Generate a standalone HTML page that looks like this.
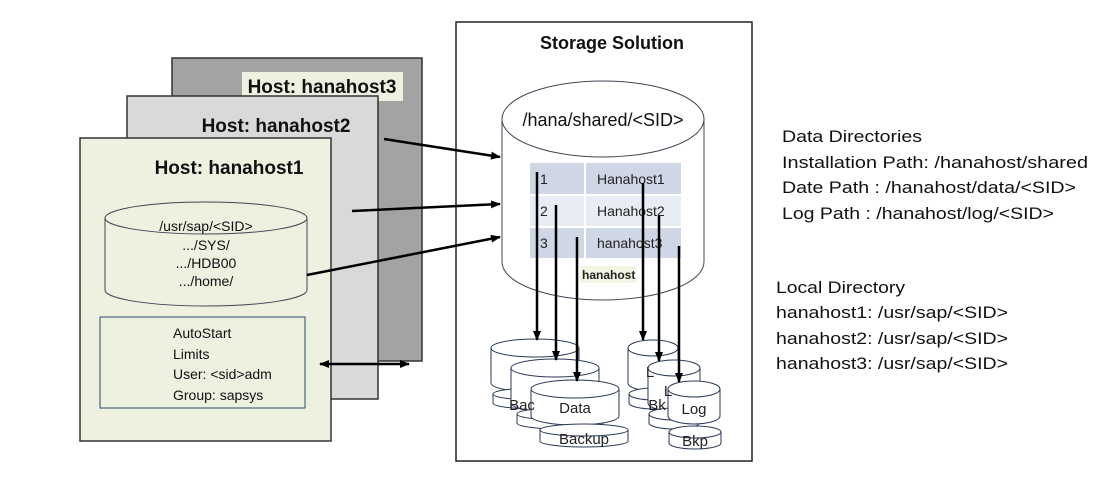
<!DOCTYPE html>
<html><head><meta charset="utf-8"><style>
html,body{margin:0;padding:0;background:#fff;}
svg{display:block;font-family:"Liberation Sans",sans-serif;}
</style></head><body>
<svg width="1100" height="480" viewBox="0 0 1100 480" xmlns="http://www.w3.org/2000/svg">
<defs>
<marker id="ah" markerWidth="10" markerHeight="8" refX="9" refY="4" orient="auto" markerUnits="userSpaceOnUse"><path d="M0,0 L10,4 L0,8 z" fill="#000"/></marker>
<marker id="ah2" markerWidth="10" markerHeight="8" refX="1" refY="4" orient="auto" markerUnits="userSpaceOnUse"><path d="M10,0 L0,4 L10,8 z" fill="#000"/></marker>
</defs>
<rect x="172" y="58" width="250" height="303" fill="#a3a3a3" stroke="#333" stroke-width="1.5"/>
<rect x="242" y="72" width="161" height="29" fill="#eef0e0"/>
<text x="322" y="93" text-anchor="middle" font-weight="bold" font-size="19" fill="#111">Host: hanahost3</text>
<rect x="127" y="96" width="251" height="303" fill="#d9d9d9" stroke="#333" stroke-width="1.5"/>
<text x="276" y="132" text-anchor="middle" font-weight="bold" font-size="19" fill="#111">Host: hanahost2</text>
<rect x="80" y="138" width="251" height="303" fill="#eef0e0" stroke="#333" stroke-width="1.5"/>
<text x="229" y="174" text-anchor="middle" font-weight="bold" font-size="19" fill="#111">Host: hanahost1</text>
<path d="M105 218 L105 290 A101 16 0 0 0 307 290 L307 218" fill="#eef0e0" stroke="#445" stroke-width="1"/>
<ellipse cx="206" cy="218" rx="101" ry="16" fill="#eef0e0" stroke="#445" stroke-width="1"/>
<g font-size="14" fill="#111" text-anchor="middle">
<text x="206" y="231">/usr/sap/&lt;SID&gt;</text>
<text x="206" y="250">.../SYS/</text>
<text x="206" y="268">.../HDB00</text>
<text x="206" y="286">.../home/</text>
</g>
<rect x="100" y="317" width="205" height="91" fill="#eef0e0" stroke="#2a4a6a" stroke-width="1"/>
<g font-size="14" fill="#111">
<text x="173" y="338">AutoStart</text>
<text x="173" y="359">Limits</text>
<text x="173" y="379">User: &lt;sid&gt;adm</text>
<text x="173" y="400">Group: sapsys</text>
</g>
<line x1="320" y1="364" x2="409" y2="364" stroke="#000" stroke-width="2.5" marker-start="url(#ah2)" marker-end="url(#ah)"/>
<rect x="456" y="22" width="296" height="439" fill="#fff" stroke="#222" stroke-width="1.5"/>
<text x="612" y="49" text-anchor="middle" font-weight="bold" font-size="18" fill="#111">Storage Solution</text>
<path d="M502 119 L502 262 A101 38 0 0 0 704 262 L704 119" fill="#fff" stroke="#445" stroke-width="1"/>
<ellipse cx="603" cy="119" rx="101" ry="38" fill="#fff" stroke="#445" stroke-width="1"/>
<text x="603" y="126" text-anchor="middle" font-size="18" fill="#111">/hana/shared/&lt;SID&gt;</text>
<rect x="530" y="163" width="54" height="31" fill="#cfd6e6"/>
<rect x="586" y="163" width="95" height="31" fill="#cfd6e6"/>
<rect x="530" y="196" width="54" height="30" fill="#e8ecf4"/>
<rect x="586" y="196" width="95" height="30" fill="#e8ecf4"/>
<rect x="530" y="228" width="54" height="30" fill="#cfd6e6"/>
<rect x="586" y="228" width="95" height="30" fill="#cfd6e6"/>
<g font-size="14" fill="#222">
<text x="540" y="184">1</text><text x="597" y="184">Hanahost1</text>
<text x="540" y="216">2</text><text x="597" y="216">Hanahost2</text>
<text x="540" y="248">3</text><text x="597" y="248">hanahost3</text>
</g>
<rect x="580" y="266" width="56" height="17" fill="#f4f6e4"/>
<text x="582" y="279" font-size="12" font-weight="bold" fill="#222">hanahost</text>
<g stroke="#2a3a5a" stroke-width="1" fill="#fff">
<path d="M491 348 L491 383 A44 9 0 0 0 579 383 L579 348"/><ellipse cx="535" cy="348" rx="44" ry="9"/>
<path d="M493 394 L493 403 A43 6 0 0 0 579 403 L579 394"/><ellipse cx="536" cy="394" rx="43" ry="6"/>
<path d="M511 368 L511 403 A44 9 0 0 0 599 403 L599 368"/><ellipse cx="555" cy="368" rx="44" ry="9"/>
<path d="M517 414 L517 423 A43 6 0 0 0 603 423 L603 414"/><ellipse cx="560" cy="414" rx="43" ry="6"/>
<path d="M531 389 L531 416 A44 9 0 0 0 619 416 L619 389"/><ellipse cx="575" cy="389" rx="44" ry="9"/>
<path d="M540 430 L540 441 A44 6 0 0 0 628 441 L628 430"/><ellipse cx="584" cy="430" rx="44" ry="6"/>
<path d="M628 348 L628 383 A25 8 0 0 0 678 383 L678 348"/><ellipse cx="653" cy="348" rx="25" ry="8"/>
<path d="M629 394 L629 403 A25 6 0 0 0 679 403 L679 394"/><ellipse cx="654" cy="394" rx="25" ry="6"/>
<path d="M648 368 L648 403 A26 8 0 0 0 700 403 L700 368"/><ellipse cx="674" cy="368" rx="26" ry="8"/>
<path d="M649 414 L649 423 A25 6 0 0 0 699 423 L699 414"/><ellipse cx="674" cy="414" rx="25" ry="6"/>
<path d="M668 389 L668 416 A26 8 0 0 0 720 416 L720 389"/><ellipse cx="694" cy="389" rx="26" ry="8"/>
<path d="M669 432 L669 443 A26 6 0 0 0 721 443 L721 432"/><ellipse cx="695" cy="432" rx="26" ry="6"/>
</g>
<g font-size="15" fill="#222" text-anchor="middle">
<text x="522" y="410">Bac</text>
<text x="575" y="413">Data</text>
<text x="584" y="444">Backup</text>
<text x="650" y="377">L</text>
<text x="657" y="410">Bk</text>
<text x="668" y="396">L</text>
<text x="694" y="414">Log</text>
<text x="695" y="446">Bkp</text>
</g>
<g stroke="#000" stroke-width="2.5" marker-end="url(#ah)">
<line x1="537" y1="172" x2="537" y2="340"/>
<line x1="556" y1="205" x2="556" y2="360"/>
<line x1="577" y1="237" x2="577" y2="381"/>
<line x1="643" y1="183" x2="643" y2="340"/>
<line x1="659" y1="216" x2="659" y2="361"/>
<line x1="679" y1="246" x2="679" y2="382"/>
</g>
<g stroke="#000" stroke-width="2.5" marker-end="url(#ah)">
<line x1="384" y1="139" x2="500" y2="157"/>
<line x1="352" y1="211" x2="500" y2="204"/>
<line x1="307" y1="275" x2="500" y2="237"/>
</g>
<g font-size="17" fill="#111">
<text x="782" y="142" textLength="140" lengthAdjust="spacingAndGlyphs">Data Directories</text>
<text x="782" y="168" textLength="306" lengthAdjust="spacingAndGlyphs">Installation Path: /hanahost/shared</text>
<text x="782" y="193" textLength="294" lengthAdjust="spacingAndGlyphs">Date Path : /hanahost/data/&lt;SID&gt;</text>
<text x="782" y="219" textLength="272" lengthAdjust="spacingAndGlyphs">Log Path : /hanahost/log/&lt;SID&gt;</text>
<text x="776" y="293" textLength="129" lengthAdjust="spacingAndGlyphs">Local Directory</text>
<text x="776" y="318" textLength="232" lengthAdjust="spacingAndGlyphs">hanahost1: /usr/sap/&lt;SID&gt;</text>
<text x="776" y="344" textLength="232" lengthAdjust="spacingAndGlyphs">hanahost2: /usr/sap/&lt;SID&gt;</text>
<text x="776" y="369" textLength="232" lengthAdjust="spacingAndGlyphs">hanahost3: /usr/sap/&lt;SID&gt;</text>
</g>
</svg>
</body></html>
